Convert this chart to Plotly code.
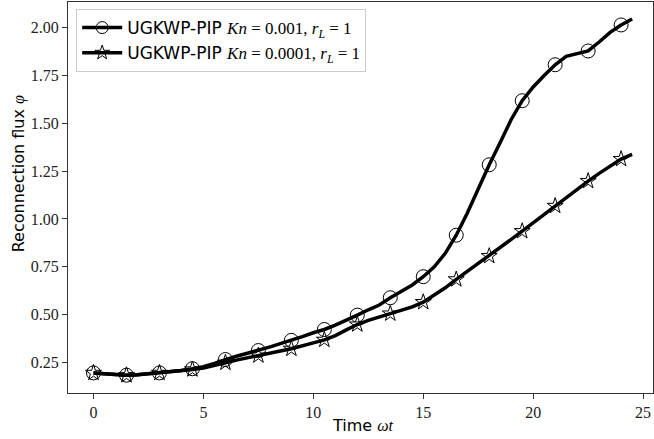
import plotly.graph_objects as go

# time samples (dense line) -- markers every 1.5 time units
time = [i * 0.5 for i in range(50)]

phi_kn001 = [0.195, 0.19, 0.185, 0.183, 0.185, 0.19, 0.195, 0.20, 0.208, 0.217,
             0.228, 0.245, 0.265, 0.282, 0.298, 0.312, 0.33, 0.348, 0.365, 0.385,
             0.405, 0.422, 0.445, 0.47, 0.497, 0.525, 0.55, 0.588, 0.62, 0.655,
             0.698, 0.75, 0.82, 0.915, 1.03, 1.16, 1.283, 1.40, 1.52, 1.618,
             1.69, 1.75, 1.806, 1.85, 1.862, 1.878, 1.925, 1.975, 2.014, 2.045]

phi_kn0001 = [0.195, 0.19, 0.185, 0.183, 0.185, 0.19, 0.195, 0.20, 0.207, 0.213,
              0.22, 0.232, 0.248, 0.262, 0.275, 0.286, 0.297, 0.31, 0.321, 0.335,
              0.352, 0.368, 0.39, 0.42, 0.448, 0.47, 0.488, 0.505, 0.52, 0.54,
              0.565, 0.6, 0.64, 0.684, 0.725, 0.765, 0.806, 0.85, 0.893, 0.936,
              0.98, 1.025, 1.068, 1.11, 1.155, 1.198, 1.238, 1.275, 1.313, 1.337]

marker_every = 3
names = ["UGKWP-PIP <span style='font-family:Liberation Serif'><i>Kn</i> = 0.001, <i>r</i><sub><i>L</i></sub> = 1</span>",
         "UGKWP-PIP <span style='font-family:Liberation Serif'><i>Kn</i> = 0.0001, <i>r</i><sub><i>L</i></sub> = 1</span>"]
symbols = ["circle-open", "star-open"]
msizes = [14, 12]
legend_msizes = [12, 11]
y_ticks = [0.25, 0.50, 0.75, 1.00, 1.25, 1.50, 1.75, 2.00]
x_ticks = [0, 5, 10, 15, 20, 25]

fig = go.Figure()
for ys, name, sym, ms, lms in zip([phi_kn001, phi_kn0001], names, symbols, msizes, legend_msizes):
    fig.add_trace(go.Scatter(x=time, y=ys, mode="lines",
                             line=dict(color="black", width=3.5),
                             showlegend=False, hoverinfo="skip"))
    fig.add_trace(go.Scatter(x=time[::marker_every], y=ys[::marker_every], mode="markers",
                             marker=dict(symbol=sym, size=ms, color="black",
                                         line=dict(width=1, color="black")),
                             showlegend=False))
    fig.add_trace(go.Scatter(x=[None], y=[None], mode="lines+markers", name=name,
                             line=dict(color="black", width=3.5),
                             marker=dict(symbol=sym, size=lms, color="black",
                                         line=dict(width=1, color="black"))))

axis_common = dict(showline=True, linecolor="#333", linewidth=1, mirror=True,
                   ticks="outside", ticklen=5, tickcolor="#333", showgrid=False,
                   zeroline=False,
                   tickfont=dict(family="Liberation Serif", size=16, color="#222"))

fig.update_xaxes(range=[-1.16, 25.45], tickvals=x_ticks,
                 ticktext=[str(v) for v in x_ticks], **axis_common)
fig.update_yaxes(range=[0.09, 2.134], tickvals=y_ticks,
                 ticktext=[f"{v:.2f}" for v in y_ticks], **axis_common)

fig.add_annotation(text="Time <span style='font-family:Liberation Serif'><i>ωt</i></span>",
                   xref="paper", yref="paper", x=0.505, y=-0.082,
                   xanchor="center", yanchor="middle", showarrow=False,
                   font=dict(family="DejaVu Sans", size=16, color="black"))
fig.add_annotation(text="Reconnection flux <span style='font-family:Liberation Serif'><i>φ</i></span>",
                   xref="paper", yref="paper", x=-0.085, y=0.56,
                   xanchor="center", yanchor="middle", showarrow=False, textangle=-90,
                   font=dict(family="DejaVu Sans", size=16, color="black"))

fig.update_layout(
    width=654, height=439,
    margin=dict(l=68, r=1, t=2, b=46),
    paper_bgcolor="white", plot_bgcolor="white",
    legend=dict(x=0.014, y=0.982, xanchor="left", yanchor="top",
                bgcolor="rgba(255,255,255,0.9)", bordercolor="#ccc", borderwidth=1,
                font=dict(family="DejaVu Sans", size=17, color="black"),
                tracegroupgap=0, itemwidth=40),
)

fig.write_html("out.html")
